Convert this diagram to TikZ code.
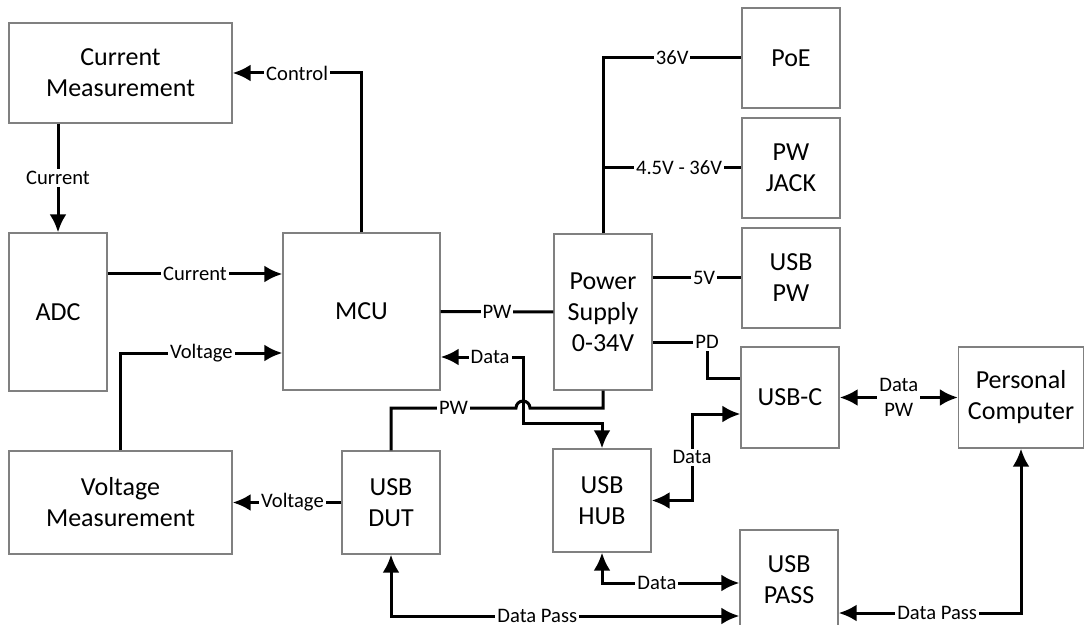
\documentclass[tikz,border=0pt]{standalone}
\usepackage{fontspec}
\setmainfont{Carlito}
\usepackage{tikz}
\usetikzlibrary{
  arrows.meta,
  positioning,
  calc
}
\definecolor{boxgray}{RGB}{128,128,128}
\tikzset{
  blockbox/.style={
    draw=boxgray,
    line width=0.7pt,
    fill=white,
    align=center,
    inner sep=2pt,
    font=\fontsize{13}{15.5}\selectfont
  },
  lbl/.style={
    fill=white,
    inner sep=1pt,
    align=center,
    font=\fontsize{10.3}{12.5}\selectfont
  },
  sigline/.style={line width=1.5pt,draw=black},
  sigarrow/.style={sigline,-{Latex[length=9pt,width=8.5pt]}},
  sigboth/.style={sigline,{Latex[length=9pt,width=8.5pt]}-{Latex[length=9pt,width=8.5pt]}}
}
\begin{document}
\begin{tikzpicture}[x=0.5pt,y=-0.5pt]
  \useasboundingbox (0,0) rectangle (1085,625);
  \clip (0,0) rectangle (1085,625);

  % blocks
  \node[blockbox,minimum width=111.5pt,minimum height=50pt] (curmeas) at (120.5,73) {Current\\Measurement};
  \node[blockbox,minimum width=49pt,minimum height=79pt] (adc) at (58,312) {ADC};
  \node[blockbox,minimum width=78.5pt,minimum height=78.5pt] (mcu) at (361.5,311.5) {MCU};
  \node[blockbox,minimum width=111.5pt,minimum height=51.5pt] (voltmeas) at (120.5,502.5) {Voltage\\Measurement};
  \node[blockbox,minimum width=49pt,minimum height=51.5pt] (dut) at (391,502.5) {USB\\DUT};
  \node[blockbox,minimum width=49pt,minimum height=78pt] (supply) at (603,312) {Power\\Supply\\0-34V};
  \node[blockbox,minimum width=49pt,minimum height=51.5pt] (hub) at (602,500.5) {USB\\HUB};
  \node[blockbox,minimum width=49pt,minimum height=50pt] (poe) at (791,58) {PoE};
  \node[blockbox,minimum width=49pt,minimum height=50pt] (jack) at (791,168) {PW\\JACK};
  \node[blockbox,minimum width=49pt,minimum height=50pt] (usbpw) at (791,278) {USB\\PW};
  \node[blockbox,minimum width=49pt,minimum height=50.5pt] (usbc) at (790,397.5) {USB-C};
  \node[blockbox,minimum width=49pt,minimum height=50pt] (pass) at (789,580) {USB\\PASS};
  \node[blockbox,minimum width=62.5pt,minimum height=50.5pt] (pc) at (1021,397.5) {Personal\\Computer};

  % routing helpers
  \coordinate (curline) at (0,274);
  \coordinate (voltline) at (0,353);
  \coordinate (dataline) at (0,357);
  \coordinate (hopcol) at (523,423);
  \coordinate (pwline) at (0,408);
  \coordinate (pdline) at (0,342);
  \coordinate (pdcol) at (707,378);
  \coordinate (hubcol) at (692,414);
  \coordinate (hubpass) at (0,583);
  \coordinate (dutpass) at (0,616);
  \coordinate (pcpass) at (0,613);

  % measurement side
  \draw[sigarrow] (mcu.north) |- node[lbl,pos=0.75] {Control} (curmeas.east);
  \draw[sigarrow] (adc.north |- curmeas.south) -- node[lbl] {Current} (adc.north);
  \draw[sigarrow] (adc.east |- curline) -- node[lbl] {Current} (mcu.west |- curline);
  \draw[sigarrow] (voltmeas.north) |- node[lbl,pos=0.75] {Voltage} (mcu.west |- voltline);
  \draw[sigarrow] (dut.west) -- node[lbl,pos=0.45] {Voltage} (voltmeas.east);

  % power
  \draw[sigline] (mcu.east) -- node[lbl] {PW} (supply.west);
  \draw[sigline] (supply.north) |- node[lbl,pos=0.75] {36V} (poe.west);
  \draw[sigline] (supply.north |- jack.west) -- node[lbl,pos=0.55] {4.5V - 36V} (jack.west);
  \draw[sigline] (supply.east |- usbpw.west) -- node[lbl,pos=0.58] {5V} (usbpw.west);
  \draw[sigline] (supply.east |- pdline) -| node[lbl] {PD} (pdcol) -- (usbc.west |- pdcol);
  \draw[sigline] (supply.south) |- ($(hopcol |- pwline)+(7,0)$)
    arc[start angle=0,end angle=180,radius=3.5pt]
    -| node[lbl,pos=0.25] {PW} (dut.north);

  % data
  \draw[sigboth] (mcu.east |- dataline) -- node[lbl,pos=0.6] {Data} (hopcol |- dataline)
    -- (hopcol) -| (hub.north);
  \draw[sigboth] (hub.east) -| node[lbl,pos=0.75] {Data} (hubcol) -- (usbc.west |- hubcol);
  \draw[sigboth] (usbc.east) -- node[lbl] {Data\\PW} (pc.west);
  \draw[sigboth] (hub.south) |- node[lbl,pos=0.7] {Data} (pass.west |- hubpass);
  \draw[sigboth] (dut.south) |- node[lbl,pos=0.71] {Data Pass} (pass.west |- dutpass);
  \draw[sigboth] (pc.south) |- node[lbl,pos=0.73] {Data Pass} (pass.east |- pcpass);
\end{tikzpicture}
\end{document}
